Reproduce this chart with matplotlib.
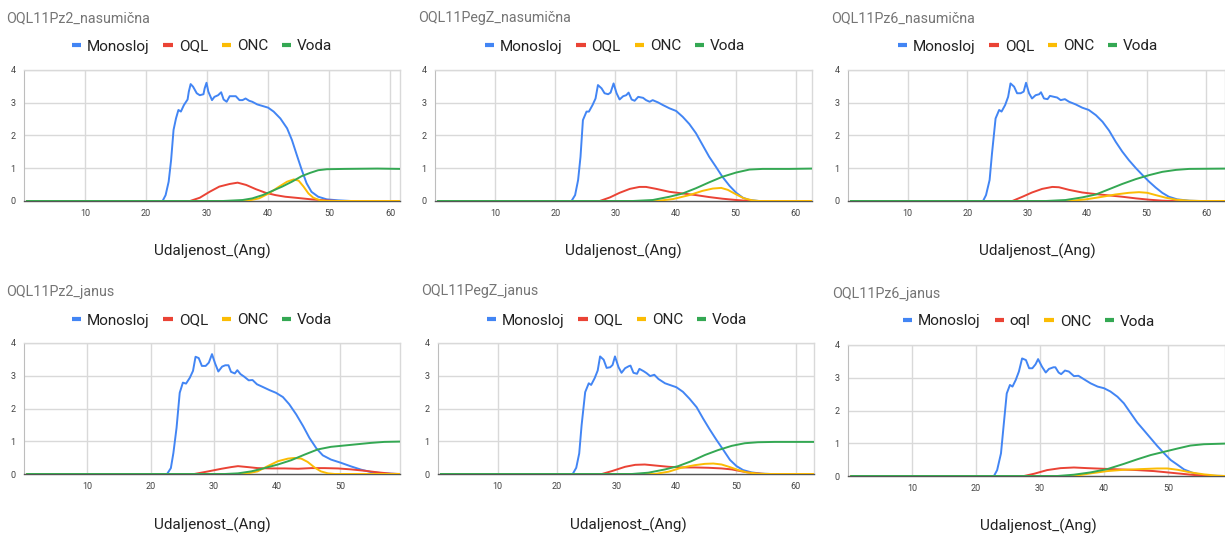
import matplotlib
matplotlib.use("Agg")
import matplotlib.pyplot as plt
from matplotlib.lines import Line2D

plt.rcParams["font.family"] = ["Roboto", "DejaVu Sans"]

# ---- series colours / names ----
series_names = ["Monosloj", "OQL", "ONC", "Voda"]
series_colors = ["#4285F4", "#EA4335", "#FBBC04", "#34A853"]

# ---- OQL11Pz2_nasumična ----
pz2_nas_mono_x = [0.5, 22.7, 23.2, 23.7, 24.1, 24.5, 24.9, 25.3, 25.7, 26.2, 26.8, 27.0, 27.3, 27.7, 28.3, 28.8, 29.4, 29.6, 29.9, 30.2, 30.8, 31.2, 31.8, 32.3, 32.7, 33.2, 33.7, 34.3, 34.7, 35.3, 35.8, 36.3, 36.9, 37.4, 38.2, 39.1, 40.0, 40.9, 42.0, 43.1, 43.9, 44.7, 45.5, 46.3, 47.1, 48.2, 49.6, 51.5, 53.6, 61.6]
pz2_nas_mono_y = [0, 0, 0.18, 0.59, 1.25, 2.17, 2.52, 2.78, 2.73, 2.93, 3.10, 3.34, 3.57, 3.49, 3.29, 3.23, 3.26, 3.44, 3.61, 3.34, 3.08, 3.18, 3.23, 3.32, 3.10, 3.03, 3.20, 3.20, 3.20, 3.08, 3.08, 3.13, 3.06, 3.03, 2.95, 2.90, 2.85, 2.73, 2.52, 2.22, 1.86, 1.40, 0.95, 0.54, 0.28, 0.13, 0.05, 0.02, 0, 0]
pz2_nas_oql_x = [0.5, 27.2, 28.8, 30.4, 32.0, 33.7, 35.0, 36.4, 38.0, 39.6, 41.2, 42.8, 45.0, 47.1, 49.3, 51.5, 61.6]
pz2_nas_oql_y = [0, 0, 0.10, 0.28, 0.44, 0.52, 0.56, 0.49, 0.36, 0.25, 0.18, 0.13, 0.09, 0.05, 0.02, 0, 0]
pz2_nas_onc_x = [0.5, 36.4, 38.5, 40.1, 41.8, 43.1, 44.2, 45.0, 45.8, 46.6, 47.4, 48.5, 49.6, 61.6]
pz2_nas_onc_y = [0, 0, 0.08, 0.23, 0.44, 0.59, 0.66, 0.62, 0.44, 0.23, 0.10, 0.02, 0, 0]
pz2_nas_voda_x = [0.5, 32.6, 35.8, 37.4, 39.1, 40.7, 42.3, 43.9, 45.5, 46.9, 48.2, 49.6, 52.5, 57.9, 61.6]
pz2_nas_voda_y = [0, 0, 0.03, 0.08, 0.18, 0.31, 0.44, 0.59, 0.76, 0.86, 0.94, 0.97, 0.98, 0.99, 0.98]

# ---- OQL11PegZ_nasumična ----
pegz_nas_mono_x = [0.5, 22.7, 23.3, 23.8, 24.2, 24.6, 25.2, 25.6, 26.2, 26.7, 27.1, 27.7, 28.2, 28.8, 29.2, 29.7, 30.2, 30.7, 31.3, 31.8, 32.2, 32.7, 33.2, 33.8, 34.6, 35.1, 35.7, 36.2, 37.1, 37.9, 39.0, 40.1, 41.2, 42.3, 43.4, 44.5, 45.6, 46.7, 47.8, 49.0, 50.1, 51.2, 52.3, 53.9, 62.7]
pegz_nas_mono_y = [0, 0, 0.18, 0.64, 1.35, 2.47, 2.73, 2.73, 2.93, 3.13, 3.54, 3.44, 3.29, 3.26, 3.31, 3.59, 3.29, 3.10, 3.20, 3.23, 3.31, 3.10, 3.06, 3.18, 3.15, 3.08, 3.03, 3.08, 3.01, 2.93, 2.83, 2.75, 2.57, 2.35, 2.07, 1.71, 1.35, 1.05, 0.74, 0.46, 0.25, 0.10, 0.03, 0, 0]
pegz_nas_oql_x = [0.5, 27.4, 29.1, 30.7, 32.4, 34.0, 35.1, 36.8, 39.0, 41.2, 43.4, 45.6, 47.8, 50.1, 52.3, 62.7]
pegz_nas_oql_y = [0, 0, 0.11, 0.25, 0.37, 0.43, 0.43, 0.37, 0.28, 0.23, 0.18, 0.12, 0.07, 0.03, 0, 0]
pegz_nas_onc_x = [0.5, 36.8, 39.6, 42.3, 44.5, 46.2, 47.6, 48.7, 50.1, 51.4, 52.8, 53.9, 62.7]
pegz_nas_onc_y = [0, 0, 0.06, 0.18, 0.31, 0.38, 0.40, 0.34, 0.20, 0.08, 0.02, 0, 0]
pegz_nas_voda_x = [0.5, 32.9, 36.2, 39.0, 41.2, 43.4, 45.6, 47.8, 50.1, 52.3, 54.5, 58.9, 62.7]
pegz_nas_voda_y = [0, 0, 0.03, 0.13, 0.23, 0.39, 0.57, 0.74, 0.87, 0.96, 0.98, 0.98, 0.99]

# ---- OQL11Pz6_nasumična ----
pz6_nas_mono_x = [0.5, 22.6, 23.1, 23.7, 24.1, 24.7, 25.3, 25.7, 26.3, 26.8, 27.2, 27.8, 28.3, 28.9, 29.4, 29.8, 30.3, 30.8, 31.4, 32.0, 32.3, 32.8, 33.4, 33.8, 34.5, 35.0, 35.6, 36.3, 37.0, 38.1, 39.2, 40.3, 41.5, 42.6, 43.7, 44.8, 45.9, 47.0, 48.2, 49.3, 50.4, 51.5, 52.6, 53.7, 55.1, 57.1, 58.8, 63.5]
pz6_nas_mono_y = [0, 0, 0.18, 0.64, 1.45, 2.52, 2.78, 2.73, 2.93, 3.18, 3.59, 3.49, 3.29, 3.29, 3.34, 3.61, 3.29, 3.13, 3.23, 3.26, 3.32, 3.13, 3.11, 3.21, 3.18, 3.16, 3.08, 3.11, 3.03, 2.95, 2.85, 2.78, 2.62, 2.42, 2.15, 1.81, 1.51, 1.25, 1.00, 0.79, 0.59, 0.41, 0.25, 0.13, 0.05, 0.01, 0, 0]
pz6_nas_oql_x = [0.5, 27.5, 29.2, 30.8, 32.5, 34.2, 35.3, 37.0, 39.2, 41.5, 43.7, 45.9, 48.2, 50.4, 52.6, 54.3, 63.5]
pz6_nas_oql_y = [0, 0, 0.13, 0.26, 0.37, 0.43, 0.42, 0.34, 0.26, 0.21, 0.17, 0.13, 0.08, 0.04, 0.01, 0, 0]
pz6_nas_onc_x = [0.5, 37.0, 39.8, 42.6, 44.8, 47.0, 48.7, 50.1, 51.5, 53.2, 54.9, 57.1, 59.3, 63.5]
pz6_nas_onc_y = [0, 0, 0.05, 0.13, 0.20, 0.25, 0.27, 0.25, 0.18, 0.10, 0.04, 0.01, 0, 0]
pz6_nas_voda_x = [0.5, 33.1, 36.4, 39.2, 41.5, 43.7, 45.9, 48.2, 50.4, 52.6, 54.9, 57.1, 63.5]
pz6_nas_voda_y = [0, 0, 0.03, 0.11, 0.20, 0.36, 0.52, 0.67, 0.79, 0.89, 0.95, 0.98, 0.99]

# ---- OQL11Pz2_janus ----
pz2_jan_mono_x = [0.5, 22.6, 23.2, 23.6, 24.1, 24.6, 25.1, 25.6, 26.2, 26.7, 27.1, 27.6, 28.1, 28.7, 29.2, 29.7, 30.2, 30.7, 31.3, 31.8, 32.3, 32.7, 33.3, 33.7, 34.2, 34.8, 35.5, 36.1, 36.8, 37.7, 38.8, 39.8, 40.9, 41.9, 43.0, 44.1, 45.1, 46.2, 47.2, 48.5, 50.1, 51.7, 53.3, 54.8, 56.9, 59.0, 59.5]
pz2_jan_mono_y = [0, 0, 0.18, 0.64, 1.41, 2.48, 2.79, 2.76, 2.94, 3.15, 3.58, 3.54, 3.30, 3.30, 3.40, 3.66, 3.37, 3.13, 3.28, 3.32, 3.32, 3.12, 3.07, 3.17, 3.05, 2.97, 2.86, 2.87, 2.74, 2.66, 2.56, 2.48, 2.35, 2.13, 1.82, 1.46, 1.10, 0.78, 0.57, 0.44, 0.34, 0.23, 0.13, 0.06, 0.02, 0, 0]
pz2_jan_oql_x = [0.5, 26.9, 29.1, 31.2, 32.7, 33.8, 35.4, 36.9, 39.1, 41.2, 43.3, 45.4, 47.5, 49.6, 51.7, 53.8, 55.9, 58.0, 59.5]
pz2_jan_oql_y = [0, 0, 0.08, 0.16, 0.21, 0.24, 0.21, 0.18, 0.17, 0.17, 0.16, 0.18, 0.18, 0.17, 0.14, 0.10, 0.05, 0.01, 0]
pz2_jan_onc_x = [0.5, 34.8, 36.9, 38.5, 40.1, 41.7, 42.7, 43.8, 44.8, 45.9, 46.9, 48.0, 49.1, 59.5]
pz2_jan_onc_y = [0, 0, 0.08, 0.24, 0.39, 0.47, 0.49, 0.47, 0.37, 0.20, 0.08, 0.02, 0, 0]
pz2_jan_voda_x = [0.5, 31.7, 33.8, 35.9, 38.0, 40.1, 42.2, 44.3, 46.4, 48.5, 50.6, 52.7, 54.8, 56.9, 59.5]
pz2_jan_voda_y = [0, 0, 0.02, 0.08, 0.18, 0.29, 0.42, 0.59, 0.75, 0.83, 0.87, 0.91, 0.95, 0.98, 0.99]

# ---- OQL11PegZ_janus ----
pegz_jan_mono_x = [0.5, 22.6, 23.2, 23.7, 24.1, 24.7, 25.3, 25.7, 26.3, 26.8, 27.2, 27.8, 28.3, 28.9, 29.3, 29.7, 30.3, 30.8, 31.4, 32.0, 32.3, 32.8, 33.4, 33.8, 34.5, 35.0, 35.6, 36.3, 37.0, 38.1, 39.2, 40.0, 41.1, 42.2, 43.4, 44.5, 45.6, 46.7, 47.9, 49.0, 50.1, 51.2, 52.6, 54.3, 55.9, 63.1]
pegz_jan_mono_y = [0, 0, 0.19, 0.63, 1.49, 2.50, 2.77, 2.72, 2.93, 3.16, 3.59, 3.49, 3.24, 3.26, 3.33, 3.59, 3.26, 3.09, 3.23, 3.29, 3.31, 3.09, 3.06, 3.21, 3.14, 3.08, 2.99, 3.03, 2.90, 2.77, 2.70, 2.65, 2.51, 2.30, 2.04, 1.69, 1.36, 1.05, 0.73, 0.43, 0.24, 0.12, 0.05, 0.01, 0, 0]
pegz_jan_oql_x = [0.5, 27.5, 29.2, 31.4, 33.1, 34.7, 36.4, 38.7, 40.8, 43.1, 45.4, 47.6, 49.3, 51.0, 52.6, 54.9, 63.1]
pegz_jan_oql_y = [0, 0, 0.09, 0.22, 0.28, 0.29, 0.26, 0.22, 0.20, 0.20, 0.19, 0.17, 0.14, 0.08, 0.03, 0, 0]
pegz_jan_onc_x = [0.5, 36.4, 38.7, 40.8, 43.1, 44.8, 46.2, 47.6, 49.0, 50.4, 51.8, 53.7, 55.9, 63.1]
pegz_jan_onc_y = [0, 0, 0.07, 0.19, 0.27, 0.31, 0.32, 0.29, 0.21, 0.12, 0.05, 0.01, 0, 0]
pegz_jan_voda_x = [0.5, 32.5, 35.3, 38.1, 40.3, 42.5, 44.8, 47.0, 49.3, 51.5, 53.7, 56.5, 63.1]
pegz_jan_voda_y = [0, 0, 0.04, 0.14, 0.24, 0.39, 0.58, 0.73, 0.86, 0.94, 0.97, 0.98, 0.98]

# ---- OQL11Pz6_janus ----
pz6_jan_mono_x = [0.5, 22.8, 23.3, 23.9, 24.3, 24.8, 25.3, 25.7, 26.2, 26.7, 27.2, 27.8, 28.3, 28.8, 29.3, 29.7, 30.3, 30.9, 31.4, 32.1, 32.4, 32.9, 33.3, 33.9, 34.5, 35.3, 36.0, 36.9, 37.9, 39.0, 40.0, 41.0, 42.1, 43.1, 44.2, 45.2, 46.3, 47.3, 48.3, 49.4, 50.4, 51.5, 52.5, 53.8, 55.1, 56.7, 59.0]
pz6_jan_mono_y = [0, 0, 0.18, 0.69, 1.51, 2.52, 2.78, 2.73, 2.93, 3.19, 3.59, 3.54, 3.29, 3.29, 3.41, 3.57, 3.34, 3.16, 3.27, 3.32, 3.32, 3.16, 3.11, 3.22, 3.19, 3.05, 3.06, 2.95, 2.83, 2.73, 2.68, 2.58, 2.42, 2.22, 1.91, 1.63, 1.38, 1.15, 0.92, 0.69, 0.49, 0.34, 0.20, 0.10, 0.04, 0.01, 0]
pz6_jan_oql_x = [0.5, 27.5, 29.1, 31.1, 33.2, 35.3, 37.4, 40.0, 42.6, 45.2, 47.8, 49.9, 52.0, 54.1, 56.7, 59.0]
pz6_jan_oql_y = [0, 0, 0.07, 0.18, 0.24, 0.26, 0.24, 0.22, 0.20, 0.18, 0.15, 0.11, 0.07, 0.03, 0, 0]
pz6_jan_onc_x = [0.5, 35.3, 37.9, 40.5, 43.1, 45.7, 48.3, 49.9, 51.5, 53.5, 55.6, 57.7, 59.0]
pz6_jan_onc_y = [0, 0, 0.08, 0.15, 0.19, 0.21, 0.23, 0.23, 0.19, 0.11, 0.05, 0.01, 0]
pz6_jan_voda_x = [0.5, 32.7, 35.3, 37.9, 40.5, 43.1, 45.2, 47.3, 49.4, 51.5, 53.5, 55.6, 59.0]
pz6_jan_voda_y = [0, 0, 0.04, 0.11, 0.21, 0.37, 0.51, 0.64, 0.74, 0.84, 0.93, 0.97, 0.99]

x_ticks = [10, 20, 30, 40, 50, 60]
y_ticks = [0, 1, 2, 3, 4]
x_label = "Udaljenost_(Ang)"

W, H = 1225, 534
fig = plt.figure(figsize=(W / 100, H / 100), dpi=100)


def px_axes(left, top, right, bottom):
    return fig.add_axes([left / W, 1 - bottom / H, (right - left) / W, (bottom - top) / H])


panels = [
    dict(title="OQL11Pz2_nasumična", names=series_names,
         data=[(pz2_nas_mono_x, pz2_nas_mono_y), (pz2_nas_oql_x, pz2_nas_oql_y),
               (pz2_nas_onc_x, pz2_nas_onc_y), (pz2_nas_voda_x, pz2_nas_voda_y)],
         box=(24, 70, 400, 201), xmax=61.6, title_xy=(6, 18), leg_xy=(202, 45), xl_xy=(212, 251)),
    dict(title="OQL11PegZ_nasumična", names=series_names,
         data=[(pegz_nas_mono_x, pegz_nas_mono_y), (pegz_nas_oql_x, pegz_nas_oql_y),
               (pegz_nas_onc_x, pegz_nas_onc_y), (pegz_nas_voda_x, pegz_nas_voda_y)],
         box=(435, 70, 812, 201), xmax=62.7, title_xy=(418, 18), leg_xy=(615, 45), xl_xy=(623, 251)),
    dict(title="OQL11Pz6_nasumična", names=series_names,
         data=[(pz6_nas_mono_x, pz6_nas_mono_y), (pz6_nas_oql_x, pz6_nas_oql_y),
               (pz6_nas_onc_x, pz6_nas_onc_y), (pz6_nas_voda_x, pz6_nas_voda_y)],
         box=(848, 70, 1225, 201), xmax=63.1, title_xy=(831, 18), leg_xy=(1028, 45), xl_xy=(1037, 251)),
    dict(title="OQL11Pz2_janus", names=series_names,
         data=[(pz2_jan_mono_x, pz2_jan_mono_y), (pz2_jan_oql_x, pz2_jan_oql_y),
               (pz2_jan_onc_x, pz2_jan_onc_y), (pz2_jan_voda_x, pz2_jan_voda_y)],
         box=(24, 343, 400, 474), xmax=59.4, title_xy=(6, 292), leg_xy=(202, 319), xl_xy=(212, 525)),
    dict(title="OQL11PegZ_janus", names=series_names,
         data=[(pegz_jan_mono_x, pegz_jan_mono_y), (pegz_jan_oql_x, pegz_jan_oql_y),
               (pegz_jan_onc_x, pegz_jan_onc_y), (pegz_jan_voda_x, pegz_jan_voda_y)],
         box=(438, 343, 814, 474), xmax=63.1, title_xy=(421, 291), leg_xy=(617, 319), xl_xy=(628, 525)),
    dict(title="OQL11Pz6_janus", names=["Monosloj", "oql", "ONC", "Voda"],
         data=[(pz6_jan_mono_x, pz6_jan_mono_y), (pz6_jan_oql_x, pz6_jan_oql_y),
               (pz6_jan_onc_x, pz6_jan_onc_y), (pz6_jan_voda_x, pz6_jan_voda_y)],
         box=(848, 345, 1225, 476), xmax=58.9, title_xy=(832, 294), leg_xy=(1029, 320), xl_xy=(1038, 526)),
]

for p in panels:
    ax = px_axes(*p["box"])
    for (xs, ys), c in zip(p["data"], series_colors):
        ax.plot(xs, ys, color=c, lw=1.4, solid_joinstyle="round", zorder=3)
    # ticks first, limits afterwards so ticks beyond the range do not widen the view
    ax.set_xticks([t for t in x_ticks if t <= p["xmax"]])
    ax.set_yticks(y_ticks)
    ax.set_xlim(0, p["xmax"])
    ax.set_ylim(0, 4)
    ax.grid(True, color="#d9d9d9", lw=1.0, zorder=0)
    ax.set_axisbelow(True)
    ax.tick_params(length=0, labelsize=6.5, labelcolor="#444444", pad=6)
    for s in ("top", "right"):
        ax.spines[s].set_color("#d9d9d9")
        ax.spines[s].set_linewidth(1.0)
    ax.spines["left"].set_color("#bdbdbd")
    ax.spines["bottom"].set_color("#555555")
    ax.spines["bottom"].set_linewidth(1.0)

    tx, ty = p["title_xy"]
    fig.text(tx / W, 1 - ty / H, p["title"], fontsize=10.3, color="#757575", ha="left", va="center")
    xx, xy = p["xl_xy"]
    fig.text(xx / W, 1 - xy / H, x_label, fontsize=11, color="#222222", ha="center", va="center")

    handles = [Line2D([], [], color=c, lw=3, solid_capstyle="butt") for c in series_colors]
    lx, ly = p["leg_xy"]
    fig.legend(handles, p["names"], loc="center", bbox_to_anchor=(lx / W, 1 - (ly + 1.5) / H),
               ncol=4, frameon=False, fontsize=11, handlelength=0.6, handletextpad=0.4,
               columnspacing=0.9, labelcolor="#222222", borderaxespad=0, borderpad=0)

fig.savefig("out.png", dpi=100)
